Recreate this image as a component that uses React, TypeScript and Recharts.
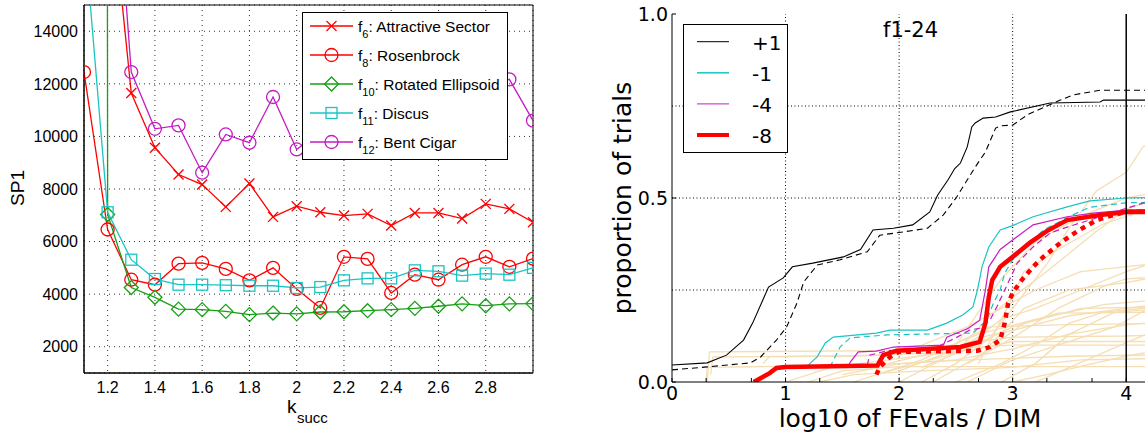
import React from 'react';
import { LineChart, Line, XAxis, YAxis, CartesianGrid, ReferenceLine, ReferenceArea } from 'recharts';

// ---------- left panel: SP1 vs k_succ ----------
const kSucc = [1.1, 1.2, 1.3, 1.4, 1.5, 1.6, 1.7, 1.8, 1.9, 2.0, 2.1, 2.2, 2.3, 2.4, 2.5, 2.6, 2.7, 2.8, 2.9, 3.0];
const f6 = [40000, 20500, 11650, 9570, 8550, 8170, 7320, 8210, 6940, 7345, 7115, 6990, 7055, 6610, 7090, 7090, 6875, 7435, 7245, 6735];
const f8 = [12450, 6460, 4550, 4360, 5160, 5190, 4960, 4525, 5000, 4200, 3475, 5420, 5340, 4045, 4740, 4550, 5120, 5420, 5040, 5350];
const f10 = [900000, 7030, 4250, 3880, 3430, 3410, 3345, 3220, 3280, 3250, 3320, 3330, 3370, 3410, 3460, 3540, 3630, 3560, 3630, 3640];
const f11 = [17900, 7115, 5310, 4575, 4360, 4360, 4340, 4320, 4320, 4235, 4270, 4525, 4600, 4600, 4905, 4870, 4705, 4780, 4740, 5000];
const f12 = [90000, 24600, 12450, 10290, 10420, 8620, 10075, 9760, 11500, 9505, 10200, 11000, 10500, 9800, 10800, 11200, 10400, 11900, 12170, 10600];
const kTicks = [1.2, 1.4, 1.6, 1.8, 2, 2.2, 2.4, 2.6, 2.8];
const spTicks = [2000, 4000, 6000, 8000, 10000, 12000, 14000];

const leftRows = kSucc.map((k, i) => ({ k, f6: f6[i], f8: f8[i], f10: f10[i], f11: f11[i], f12: f12[i] }));

// ---------- right panel: ECDF of runtimes ----------
const p1Solid = [[0, 0.046], [0.31, 0.052], [0.48, 0.073], [0.63, 0.114], [0.71, 0.16], [0.8, 0.223], [0.85, 0.258], [0.98, 0.283], [1.06, 0.313], [1.24, 0.323], [1.51, 0.34], [1.66, 0.36], [1.77, 0.413], [1.95, 0.418], [2.12, 0.427], [2.27, 0.462], [2.34, 0.508], [2.43, 0.549], [2.49, 0.58], [2.54, 0.595], [2.6, 0.639], [2.64, 0.693], [2.67, 0.704], [2.74, 0.717], [2.85, 0.72], [2.98, 0.734], [3.33, 0.758], [3.77, 0.761], [3.8, 0.766], [4.5, 0.766]];
const p1Dashed = [[0, 0.033], [0.31, 0.041], [0.69, 0.052], [0.78, 0.068], [0.92, 0.114], [1.01, 0.15], [1.1, 0.214], [1.16, 0.272], [1.28, 0.318], [1.48, 0.332], [1.72, 0.354], [1.83, 0.399], [2.04, 0.408], [2.25, 0.418], [2.39, 0.454], [2.51, 0.504], [2.67, 0.584], [2.76, 0.625], [2.85, 0.69], [2.89, 0.696], [3.0, 0.698], [3.13, 0.726], [3.3, 0.75], [3.42, 0.766], [3.53, 0.78], [3.77, 0.793], [4.5, 0.793]];
const m1Solid = [[1.19, 0.04], [1.2, 0.046], [1.28, 0.069], [1.35, 0.106], [1.42, 0.122], [1.8, 0.133], [1.92, 0.141], [2.25, 0.141], [2.42, 0.16], [2.56, 0.182], [2.65, 0.204], [2.69, 0.25], [2.73, 0.313], [2.79, 0.367], [2.89, 0.413], [3.0, 0.425], [3.18, 0.449], [3.48, 0.476], [3.68, 0.492], [4.0, 0.5], [4.5, 0.503]];
const m1Dashed = [[1.39, 0.04], [1.41, 0.052], [1.48, 0.095], [1.57, 0.12], [1.9, 0.128], [2.65, 0.133], [2.77, 0.168], [2.83, 0.214], [2.89, 0.25], [2.93, 0.296], [3.0, 0.332], [3.15, 0.378], [3.27, 0.413], [3.5, 0.45], [3.68, 0.475], [4.0, 0.487], [4.5, 0.49]];
const m4Solid = [[1.55, 0.04], [1.57, 0.054], [1.64, 0.082], [1.8, 0.084], [1.95, 0.095], [2.39, 0.1], [2.42, 0.122], [2.61, 0.146], [2.71, 0.168], [2.76, 0.25], [2.79, 0.313], [2.89, 0.36], [3.0, 0.386], [3.18, 0.427], [3.48, 0.449], [3.71, 0.459], [4.0, 0.467], [4.5, 0.472]];
const m4Dashed = [[1.72, 0.046], [1.74, 0.073], [1.9, 0.085], [2.3, 0.09], [2.5, 0.12], [2.62, 0.141], [2.71, 0.146], [2.8, 0.168], [2.86, 0.204], [2.93, 0.25], [3.04, 0.323], [3.18, 0.367], [3.33, 0.405], [3.48, 0.421], [3.77, 0.449], [4.0, 0.472], [4.15, 0.486], [4.5, 0.49]];
const m8Solid = [[0.72, 0], [0.86, 0.024], [0.92, 0.038], [1.0, 0.041], [1.81, 0.045], [1.86, 0.073], [1.98, 0.085], [2.54, 0.095], [2.71, 0.109], [2.76, 0.16], [2.79, 0.231], [2.82, 0.277], [2.89, 0.313], [3.0, 0.34], [3.15, 0.378], [3.3, 0.41], [3.48, 0.44], [3.77, 0.454], [4.0, 0.462], [4.5, 0.462]];
const m8Dashed = [[1.8, 0.02], [1.83, 0.041], [1.92, 0.068], [2.0, 0.082], [2.69, 0.085], [2.8, 0.095], [2.89, 0.114], [2.93, 0.16], [2.96, 0.214], [3.0, 0.242], [3.08, 0.277], [3.18, 0.313], [3.27, 0.34], [3.42, 0.378], [3.57, 0.41], [3.74, 0.44], [3.9, 0.455], [4.0, 0.462], [4.5, 0.465]];

// background runs (single functions), drawn in wheat
const tanA = [[0.3, 0], [0.31, 0.04], [1.5, 0.045], [2.0, 0.05], [2.6, 0.06], [3.5, 0.07], [4.5, 0.075]];
const tanB = [[0.31, 0], [0.33, 0.082], [1.9, 0.085], [2.2, 0.1], [2.6, 0.15], [2.9, 0.2], [3.2, 0.25], [3.6, 0.3], [4.5, 0.33]];
const tanC = [[0.8, 0.05], [0.86, 0.069], [1.5, 0.07], [2.4, 0.08], [2.7, 0.12], [3.0, 0.14], [3.5, 0.18], [4.0, 0.2], [4.5, 0.22]];
const tanD = [[2.2, 0], [2.5, 0.05], [2.8, 0.12], [3.0, 0.2], [3.3, 0.32], [3.5, 0.42], [3.74, 0.52], [4.0, 0.57], [4.15, 0.64], [4.5, 0.7]];
const tanE = [[1.2, 0], [1.5, 0.03], [2.0, 0.042], [4.5, 0.042]];
const tanF = [[1.6, 0], [2.2, 0.06], [2.6, 0.12], [2.8, 0.15], [3.4, 0.155], [4.5, 0.16]];
const tanG = [[2.0, 0], [2.5, 0.08], [2.8, 0.18], [3.0, 0.23], [3.3, 0.3], [3.7, 0.4], [4.0, 0.47], [4.5, 0.52]];
const tanH = [[1.8, 0.02], [2.4, 0.07], [2.7, 0.11], [3.0, 0.122], [4.0, 0.125], [4.5, 0.13]];
const tanI = [[2.5, 0], [2.9, 0.05], [3.2, 0.1], [3.5, 0.16], [3.8, 0.19], [4.5, 0.21]];
const tanJ = [[1.0, 0], [1.4, 0.04], [1.9, 0.06], [2.7, 0.09], [3.0, 0.11], [4.5, 0.11]];
const tanK = [[2.6, 0], [3.0, 0.06], [3.4, 0.1], [3.9, 0.15], [4.2, 0.2], [4.5, 0.24]];
const tanL = [[3.0, 0], [3.3, 0.02], [3.7, 0.05], [4.0, 0.07], [4.5, 0.1]];
const tanM = [[1.3, 0], [1.6, 0.02], [2.2, 0.03], [3.0, 0.04], [3.6, 0.06], [4.5, 0.065]];
const tanN = [[2.3, 0], [2.7, 0.07], [3.1, 0.16], [3.4, 0.187], [4.5, 0.19]];
const tanO = [[2.0, 0.03], [2.6, 0.1], [2.9, 0.17], [3.2, 0.2], [3.6, 0.25], [4.0, 0.3], [4.5, 0.35]];
const tanP = [[2.9, 0], [3.2, 0.05], [3.5, 0.13], [3.9, 0.19], [4.2, 0.196], [4.5, 0.2]];
const tanQ = [[2.5, 0.1], [2.9, 0.28], [3.2, 0.38], [3.6, 0.45], [4.0, 0.5], [4.5, 0.53]];
const tanR = [[2.6, 0.05], [3.0, 0.12], [3.4, 0.2], [3.8, 0.26], [4.0, 0.28], [4.5, 0.29]];
const tanS = [[2.8, 0.1], [3.1, 0.2], [3.5, 0.25], [4.0, 0.27], [4.5, 0.3]];
const tanT = [[1.9, 0.05], [2.3, 0.08], [2.7, 0.13], [3.2, 0.17], [3.8, 0.21], [4.5, 0.23]];
const tanU = [[2.2, 0.04], [2.6, 0.09], [3.0, 0.15], [3.6, 0.2], [4.5, 0.205]];
const tanV = [[3.2, 0], [3.5, 0.04], [3.8, 0.08], [4.1, 0.12], [4.5, 0.17]];
const tanW = [[0.34, 0.02], [0.36, 0.068], [1.2, 0.07], [1.8, 0.072], [2.4, 0.09], [3.0, 0.1], [4.5, 0.1]];
const tanX = [[2.7, 0.05], [2.95, 0.2], [3.1, 0.3], [3.4, 0.36], [3.8, 0.43], [4.2, 0.47], [4.5, 0.49]];
const tanY = [[1.5, 0.02], [2.0, 0.05], [2.5, 0.06], [3.0, 0.09], [3.5, 0.13], [4.0, 0.155], [4.5, 0.17]];
const tanRuns = [tanA, tanB, tanC, tanD, tanE, tanF, tanG, tanH, tanI, tanJ, tanK, tanL, tanM, tanN, tanO, tanP, tanQ, tanR, tanS, tanT, tanU, tanV, tanW, tanX, tanY];

const log10Minor = [0.301, 0.477, 0.602, 0.699, 0.778, 0.845, 0.903, 0.954];
const decades = [0, 1, 2, 3, 4];
const propTicks = [0, 0.5, 1];

const logTicks = decades.flatMap((d) => [d, ...log10Minor.map((m) => d + m)]).filter((t) => t <= 4.5);
const pts = (arr: number[][]) => arr.map(([x, y]) => ({ x, y }));

const RED = '#ff0000';
const GREEN = '#16a016';
const CYAN = '#1ac4c4';
const MAGENTA = '#c41cc4';
const TAN = '#f5deb3';

const HELV = 'Liberation Sans, Arial, sans-serif';
const DEJA = 'DejaVu Sans, sans-serif';

const visible = (v: any) => typeof v === 'number' && v <= 15000 && v >= 1000;

const crossDot = (color: string) => (p: any) => {
  const { cx, cy, value, index } = p;
  if (!visible(value)) return <g key={`x${index}`} />;
  const s = 5;
  return (
    <g key={`x${index}`} stroke={color} strokeWidth={1.3}>
      <line x1={cx - s} y1={cy - s} x2={cx + s} y2={cy + s} />
      <line x1={cx - s} y1={cy + s} x2={cx + s} y2={cy - s} />
    </g>
  );
};
const circleDot = (color: string) => (p: any) => {
  const { cx, cy, value, index } = p;
  if (!visible(value)) return <g key={`o${index}`} />;
  return <circle key={`o${index}`} cx={cx} cy={cy} r={6.5} fill="none" stroke={color} strokeWidth={1.3} />;
};
const diamondDot = (color: string) => (p: any) => {
  const { cx, cy, value, index } = p;
  if (!visible(value)) return <g key={`d${index}`} />;
  const s = 7;
  return <polygon key={`d${index}`} points={`${cx},${cy - s} ${cx + s},${cy} ${cx},${cy + s} ${cx - s},${cy}`} fill="none" stroke={color} strokeWidth={1.3} />;
};
const squareDot = (color: string) => (p: any) => {
  const { cx, cy, value, index } = p;
  if (!visible(value)) return <g key={`s${index}`} />;
  const s = 5.5;
  return <rect key={`s${index}`} x={cx - s} y={cy - s} width={2 * s} height={2 * s} fill="none" stroke={color} strokeWidth={1.3} />;
};

const LogTick = (props: any) => {
  const { x, y, payload } = props;
  if (!Number.isInteger(payload.value)) return <g />;
  return (
    <text x={x} y={y} dy="0.71em" textAnchor="middle" fontSize={19} fontFamily={DEJA} fill="#000">
      {payload.value}
    </text>
  );
};

const leftLegend = [
  { sub: '6', name: 'Attractive Sector', color: RED, marker: 'x' },
  { sub: '8', name: 'Rosenbrock', color: RED, marker: 'o' },
  { sub: '10', name: 'Rotated Ellipsoid', color: GREEN, marker: 'd' },
  { sub: '11', name: 'Discus', color: CYAN, marker: 's' },
  { sub: '12', name: 'Bent Cigar', color: MAGENTA, marker: 'o' },
];
const rightLegend = [
  { label: '+1', color: '#000', w: 1 },
  { label: '-1', color: CYAN, w: 1.5 },
  { label: '-4', color: MAGENTA, w: 1 },
  { label: '-8', color: RED, w: 4 },
];

const legendMarker = (m: string, cx: number, cy: number, color: string) => {
  if (m === 'x') return <g stroke={color} strokeWidth={1.3}><line x1={cx - 5} y1={cy - 5} x2={cx + 5} y2={cy + 5} /><line x1={cx - 5} y1={cy + 5} x2={cx + 5} y2={cy - 5} /></g>;
  if (m === 'o') return <circle cx={cx} cy={cy} r={6.5} fill="none" stroke={color} strokeWidth={1.3} />;
  if (m === 'd') return <polygon points={`${cx},${cy - 7} ${cx + 7},${cy} ${cx},${cy + 7} ${cx - 7},${cy}`} fill="none" stroke={color} strokeWidth={1.3} />;
  return <rect x={cx - 5.5} y={cy - 5.5} width={11} height={11} fill="none" stroke={color} strokeWidth={1.3} />;
};

export default function App() {
  return (
    <div style={{ position: 'fixed', left: 0, top: 0, width: 1145, height: 433, overflow: 'hidden', background: '#fff' }}>
      <div style={{ position: 'absolute', left: 0, top: 0 }}>
        <LineChart width={545} height={433} data={leftRows} margin={{ top: 5, right: 12, bottom: 30, left: 24 }}>
          <CartesianGrid stroke="#333" strokeDasharray="1 4" />
          <XAxis dataKey="k" type="number" domain={[1.1, 3.0]} ticks={kTicks} allowDataOverflow height={30}
            tickFormatter={(v: number) => String(v)} tickSize={0} tickMargin={9}
            tick={{ fill: '#000', fontSize: 16, fontFamily: HELV }} axisLine={{ stroke: '#000' }} />
          <YAxis type="number" domain={[1000, 15000]} ticks={spTicks} allowDataOverflow width={60}
            tickSize={0} tickMargin={6} tick={{ fill: '#000', fontSize: 16, fontFamily: HELV }} axisLine={{ stroke: '#000' }} />
          <ReferenceArea x1={1.1} x2={3.0} y1={1000} y2={15000} fill="none" stroke="#000" ifOverflow="visible" />
          <Line dataKey="f6" stroke={RED} strokeWidth={1.3} dot={crossDot(RED)} activeDot={false} isAnimationActive={false} />
          <Line dataKey="f8" stroke={RED} strokeWidth={1.3} dot={circleDot(RED)} activeDot={false} isAnimationActive={false} />
          <Line dataKey="f10" stroke={GREEN} strokeWidth={1.3} dot={diamondDot(GREEN)} activeDot={false} isAnimationActive={false} />
          <Line dataKey="f11" stroke={CYAN} strokeWidth={1.3} dot={squareDot(CYAN)} activeDot={false} isAnimationActive={false} />
          <Line dataKey="f12" stroke={MAGENTA} strokeWidth={1.3} dot={circleDot(MAGENTA)} activeDot={false} isAnimationActive={false} />
        </LineChart>
      </div>

      <div style={{ position: 'absolute', left: 560, top: 0 }}>
        <LineChart width={623} height={433} margin={{ top: 14, right: 0, bottom: 21, left: 52 }}>
          <XAxis xAxisId="b" dataKey="x" type="number" domain={[0, 4.5]} allowDataOverflow ticks={logTicks} height={30}
            tick={<LogTick />} tickSize={-4} tickMargin={9} axisLine={{ stroke: '#000' }} tickLine={{ stroke: '#000' }} />
          <XAxis xAxisId="t" orientation="top" dataKey="x" type="number" domain={[0, 4.5]} allowDataOverflow ticks={logTicks} height={0}
            tick={false} tickSize={-4} axisLine={{ stroke: '#000' }} tickLine={{ stroke: '#000' }} />
          <YAxis dataKey="y" type="number" domain={[0, 1]} ticks={propTicks} allowDataOverflow width={60}
            tickFormatter={(v: number) => v.toFixed(1)} tickSize={-4} tickMargin={8}
            tick={{ fill: '#000', fontSize: 19, fontFamily: DEJA }} axisLine={{ stroke: '#000' }} tickLine={{ stroke: '#000' }} />
          {[1, 2, 3].map((v) => (
            <ReferenceLine key={`gx${v}`} xAxisId="b" x={v} stroke="#000" strokeDasharray="1 2.5" />
          ))}
          {[0.25, 0.5, 0.75].map((v) => (
            <ReferenceLine key={`gy${v}`} xAxisId="b" y={v} stroke="#000" strokeDasharray="1 2.5" />
          ))}
          {tanRuns.map((r, i) => (
            <Line key={`tan${i}`} xAxisId="b" data={pts(r)} dataKey="y" stroke={TAN} strokeWidth={1.3} dot={false} activeDot={false} isAnimationActive={false} />
          ))}
          <Line xAxisId="b" data={pts(p1Dashed)} dataKey="y" stroke="#000" strokeWidth={1.1} strokeDasharray="6 4" dot={false} activeDot={false} isAnimationActive={false} />
          <Line xAxisId="b" data={pts(p1Solid)} dataKey="y" stroke="#000" strokeWidth={1.1} dot={false} activeDot={false} isAnimationActive={false} />
          <Line xAxisId="b" data={pts(m1Dashed)} dataKey="y" stroke={CYAN} strokeWidth={1.2} strokeDasharray="6 4" dot={false} activeDot={false} isAnimationActive={false} />
          <Line xAxisId="b" data={pts(m1Solid)} dataKey="y" stroke={CYAN} strokeWidth={1.2} dot={false} activeDot={false} isAnimationActive={false} />
          <Line xAxisId="b" data={pts(m4Dashed)} dataKey="y" stroke={MAGENTA} strokeWidth={1.2} strokeDasharray="6 4" dot={false} activeDot={false} isAnimationActive={false} />
          <Line xAxisId="b" data={pts(m4Solid)} dataKey="y" stroke={MAGENTA} strokeWidth={1.2} dot={false} activeDot={false} isAnimationActive={false} />
          <Line xAxisId="b" data={pts(m8Dashed)} dataKey="y" stroke={RED} strokeWidth={4.5} strokeDasharray="5 5" dot={false} activeDot={false} isAnimationActive={false} />
          <Line xAxisId="b" data={pts(m8Solid)} dataKey="y" stroke={RED} strokeWidth={4.5} dot={false} activeDot={false} isAnimationActive={false} />
          <ReferenceLine xAxisId="b" x={4} stroke="#000" strokeWidth={1.5} />
        </LineChart>
      </div>

      <svg width={1145} height={433} style={{ position: 'absolute', left: 0, top: 0, pointerEvents: 'none' }}>
        {/* left panel titles */}
        <text x={24} y={188} transform="rotate(-90 24 188)" textAnchor="middle" fontFamily={HELV} fontSize={19} fill="#000">SP1</text>
        <text x={287} y={413} fontFamily={HELV} fontSize={19} fill="#000">k</text>
        <text x={297} y={423} fontFamily={HELV} fontSize={15} fill="#000">succ</text>

        {/* left legend */}
        <rect x={302.5} y={12.5} width={205} height={147} fill="#fff" stroke="#000" strokeWidth={1} />
        {leftLegend.map((e, i) => {
          const cy = 26 + i * 29;
          return (
            <g key={e.name}>
              <line x1={310} y1={cy} x2={353} y2={cy} stroke={e.color} strokeWidth={1.3} />
              {legendMarker(e.marker, 331.5, cy, e.color)}
              <text x={358} y={cy + 5.5} fontFamily={HELV} fontSize={15.5} fill="#000">
                f<tspan dy={6} fontSize={11}>{e.sub}</tspan><tspan dy={-6}>: {e.name}</tspan>
              </text>
            </g>
          );
        })}

        {/* right panel titles */}
        <text x={631} y={198} transform="rotate(-90 631 198)" textAnchor="middle" fontFamily={DEJA} fontSize={25} fill="#000">proportion of trials</text>
        <text x={910} y={427} textAnchor="middle" fontFamily={DEJA} fontSize={25} fill="#000">log10 of FEvals / DIM</text>
        <text x={883} y={37} fontFamily={DEJA} fontSize={21} fill="#000">f1-24</text>

        {/* right legend */}
        <rect x={683.5} y={24.5} width={104} height={128} fill="#fff" stroke="#000" strokeWidth={1} />
        {rightLegend.map((e, i) => {
          const cy = 41.7 + i * 31.1;
          return (
            <g key={e.label}>
              <line x1={697} y1={cy} x2={729} y2={cy} stroke={e.color} strokeWidth={e.w} />
              <text x={752} y={cy + 8} fontFamily={DEJA} fontSize={20} fill="#000">{e.label}</text>
            </g>
          );
        })}
      </svg>
    </div>
  );
}
